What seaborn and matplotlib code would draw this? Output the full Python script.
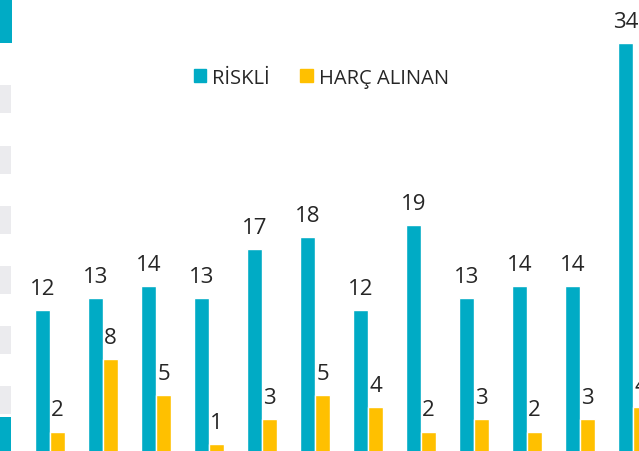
import pandas as pd
import matplotlib.pyplot as plt
import seaborn as sns
from matplotlib.patches import Rectangle

# values
groups = [f"G{i+1}" for i in range(12)]
riskli = [12, 13, 14, 13, 17, 18, 12, 19, 13, 14, 14, 34]
harc = [2, 8, 5, 1, 3, 5, 4, 2, 3, 2, 3, 4]
series_names = ["RİSKLİ", "HARÇ ALINAN"]
colors = ["#00ABC5", "#FFC000"]

df = pd.DataFrame({
    "grup": groups * 2,
    "seri": [series_names[0]] * len(groups) + [series_names[1]] * len(groups),
    "deger": riskli + harc,
})

sns.set_style("white")
plt.rcParams["font.family"] = ["Open Sans", "DejaVu Sans"]

fig = plt.figure(figsize=(6.39, 4.52), dpi=100)
ax = fig.add_axes([0, 0, 1, 1])

sns.barplot(data=df, x="grup", y="deger", hue="seri", palette=colors,
            width=0.566, gap=0, ax=ax, legend=False, saturation=1)

for cont in ax.containers:
    ax.bar_label(cont, padding=8, fontsize=16, color="#262626",
                 annotation_clip=False)

ax.set_xlim(-0.943, 11.11)
ax.set_ylim(0.4, 37.6)
ax.axis("off")

# legend
handles = [Rectangle((0, 0), 1, 1, color=c) for c in colors]
ax.legend(handles, series_names, loc="center", bbox_to_anchor=(0.503, 0.826),
          ncol=2, frameon=False, fontsize=14.5, handlelength=0.62, handleheight=0.62,
          handletextpad=0.3, columnspacing=1.5, labelcolor="#262626")

# fragments of neighbouring content at the left edge
W, H = 639, 452
def px_rect(x0, y0, x1, y1, color):
    fig.add_artist(Rectangle((x0 / W, 1 - y1 / H), (x1 - x0) / W, (y1 - y0) / H,
                             transform=fig.transFigure, color=color, lw=0))

px_rect(0, 0, 12, 44, "#00ABC5")
for y0 in [86, 147, 207, 267, 327, 387]:
    px_rect(0, y0, 11, y0 + 28, "#EBEBEE")
px_rect(0, 418, 11, 452, "#00ABC5")

fig.savefig("out.png", dpi=100)
